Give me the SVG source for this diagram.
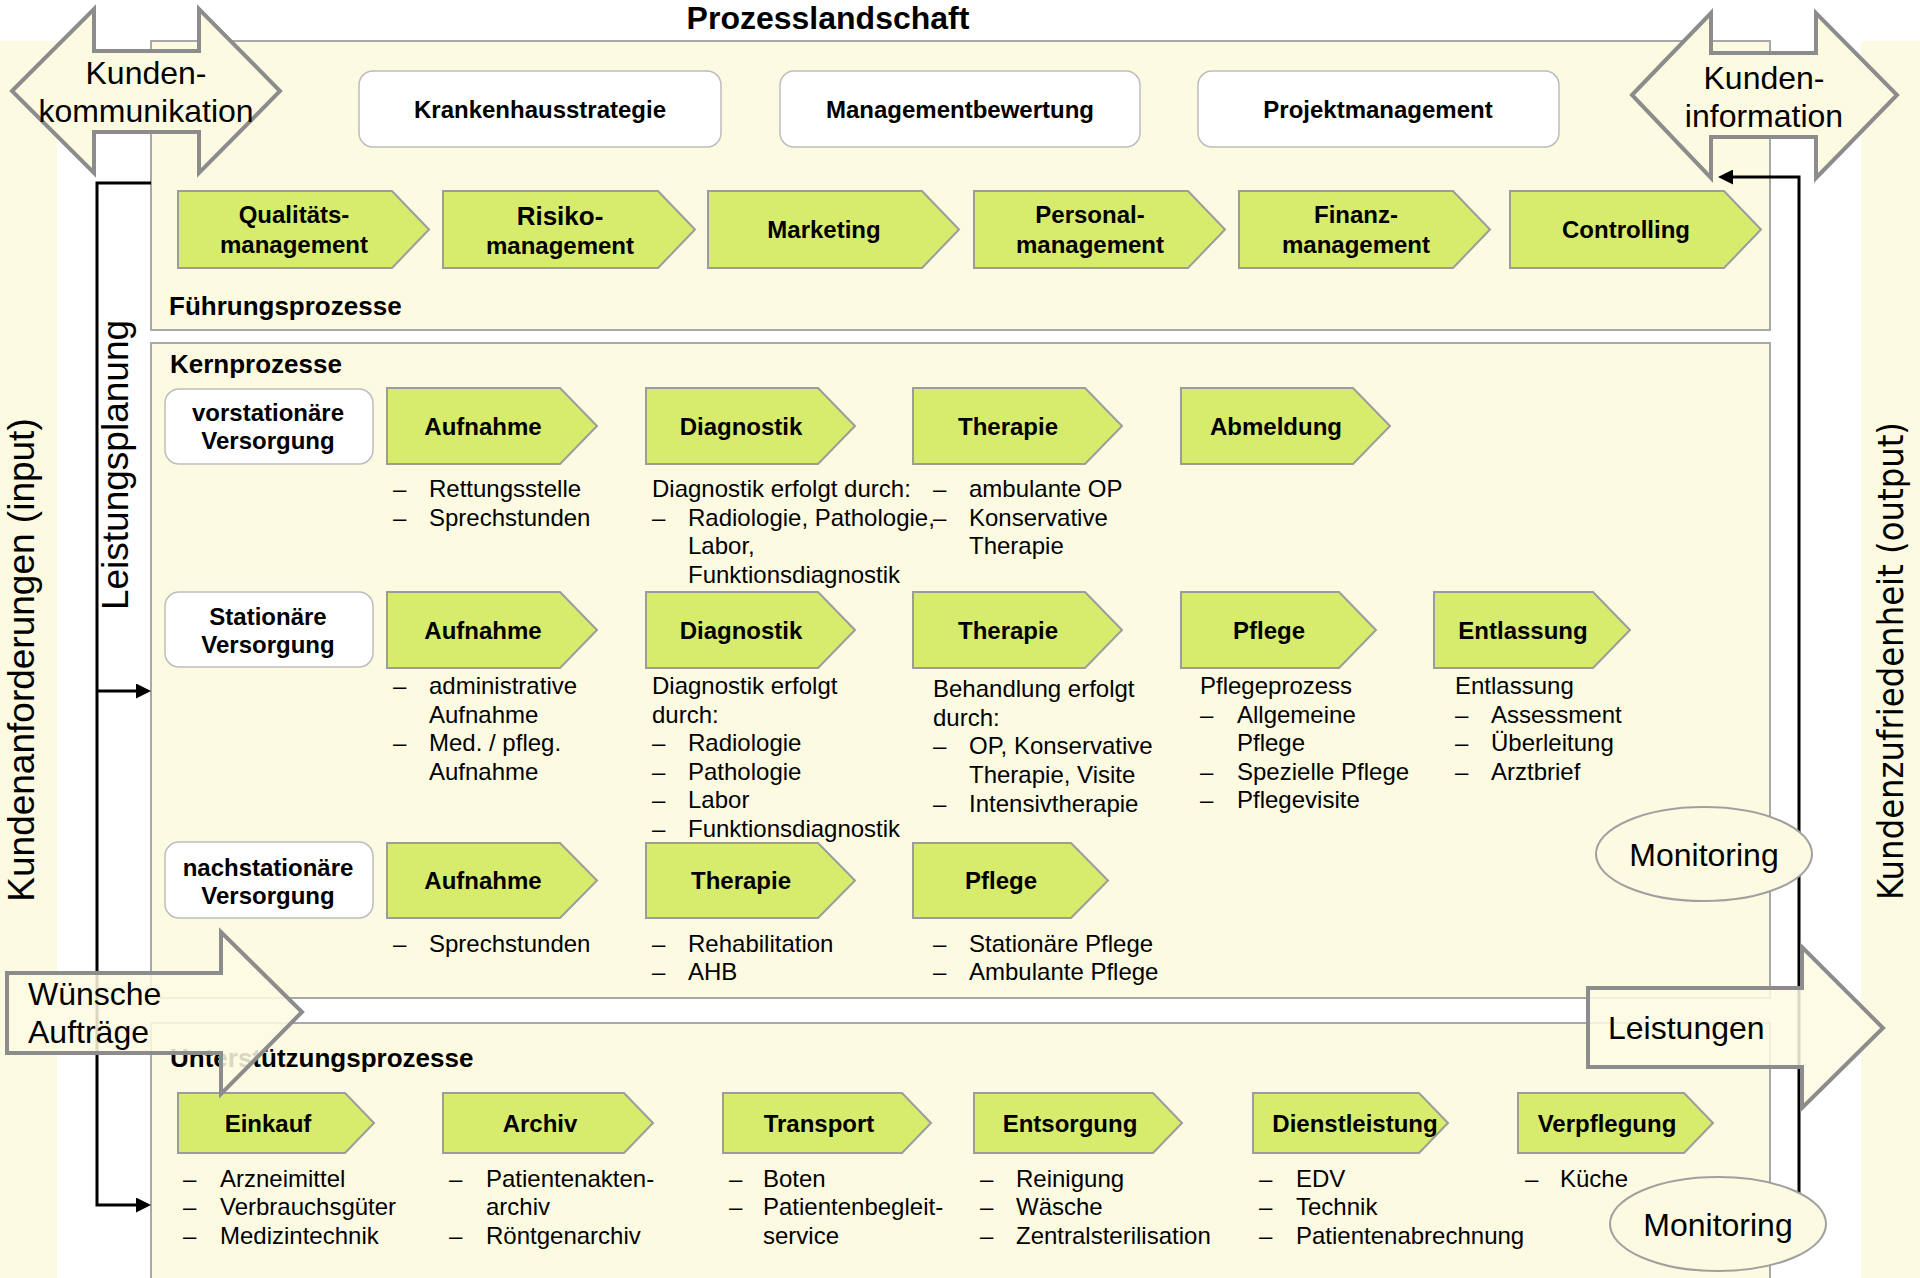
<svg xmlns="http://www.w3.org/2000/svg" width="1920" height="1278" viewBox="0 0 1920 1278">
<defs>
<style>
.bg{fill:#FDFAE2}
.frame{fill:#FDFAE2;stroke:#A8A8A8;stroke-width:2}
.wbox{fill:#FFFFFF;stroke:#BDBDBD;stroke-width:1.5}
.gn{fill:#D7EC6C;stroke:#9C9C9C;stroke-width:2}
.big{fill:#FDFAE2;stroke:#8C8C8C;stroke-width:4}
.semi{fill-opacity:0.86}
.ell{fill:#FDFAE2;stroke:#A0A0A0;stroke-width:2}
text{font-family:"Liberation Sans",Arial,sans-serif;fill:#000}
.nb{font-size:24px;font-weight:bold;text-anchor:middle}
.d{font-size:24px}
.sec{font-size:26px;font-weight:bold}
.lg{font-size:32px}
.lgc{font-size:32px;text-anchor:middle}
.rot{font-size:37px;text-anchor:middle}
.conn{stroke:#000;stroke-width:3;fill:none}
</style>
<marker id="ah" viewBox="0 0 15 15" refX="4" refY="7.5" markerWidth="15" markerHeight="15" markerUnits="userSpaceOnUse" orient="auto">
<path d="M0,0 L15,7.5 L0,15 z" fill="#000"/>
</marker>
</defs>

<g id="background">
<rect class="bg" x="0" y="41" width="57" height="1237"/>
<rect class="bg" x="1861" y="41" width="59" height="1237"/>
<rect id="frame-fuehrung" class="frame" x="151" y="41" width="1619" height="289"/>
<rect id="frame-kern" class="frame" x="151" y="343" width="1619" height="655"/>
<rect id="frame-unterstuetzung" class="frame" x="151" y="1023" width="1619" height="300"/>
</g>

<g id="labels">
<text x="828" y="29" style="font-size:32px;font-weight:bold;text-anchor:middle">Prozesslandschaft</text>
<text class="sec" x="169" y="315">Führungsprozesse</text>
<text class="sec" x="170" y="373">Kernprozesse</text>
<text class="sec" x="170" y="1067">Unterstützungsprozesse</text>
</g>

<g id="n-krankenhausstrategie"><rect class="wbox" x="359" y="71" width="362" height="76" rx="14"/><text class="nb" x="540" y="117.5">Krankenhausstrategie</text></g>
<g id="n-managementbewertung"><rect class="wbox" x="780" y="71" width="360" height="76" rx="14"/><text class="nb" x="960" y="117.5">Managementbewertung</text></g>
<g id="n-projektmanagement"><rect class="wbox" x="1198" y="71" width="361" height="76" rx="14"/><text class="nb" x="1378" y="117.5">Projektmanagement</text></g>

<g id="n-qualitaet"><polygon class="gn" points="178,191 392,191 429,229.5 392,268 178,268"/><text class="nb" x="294" y="223">Qualitäts-</text><text class="nb" x="294" y="253">management</text></g>
<g id="n-risiko"><polygon class="gn" points="443,191 658,191 695,229.5 658,268 443,268"/><text class="nb" x="560" y="224.5" style="font-size:26px">Risiko-</text><text class="nb" x="560" y="254">management</text></g>
<g id="n-marketing"><polygon class="gn" points="708,191 922,191 959,229.5 922,268 708,268"/><text class="nb" x="824" y="238">Marketing</text></g>
<g id="n-personal"><polygon class="gn" points="974,191 1188,191 1225,229.5 1188,268 974,268"/><text class="nb" x="1090" y="223">Personal-</text><text class="nb" x="1090" y="253">management</text></g>
<g id="n-finanz"><polygon class="gn" points="1239,191 1453,191 1490,229.5 1453,268 1239,268"/><text class="nb" x="1356" y="223">Finanz-</text><text class="nb" x="1356" y="253">management</text></g>
<g id="n-controlling"><polygon class="gn" points="1510,191 1724,191 1761,229.5 1724,268 1510,268"/><text class="nb" x="1626" y="238">Controlling</text></g>

<g id="n-vorstationaer"><rect class="wbox" x="165" y="389" width="208" height="75" rx="14"/><text class="nb" x="268" y="421">vorstationäre</text><text class="nb" x="268" y="449">Versorgung</text></g>
<g id="n-stationaer"><rect class="wbox" x="165" y="592" width="208" height="75" rx="14"/><text class="nb" x="268" y="625">Stationäre</text><text class="nb" x="268" y="653">Versorgung</text></g>
<g id="n-nachstationaer"><rect class="wbox" x="165" y="842" width="208" height="76" rx="14"/><text class="nb" x="268" y="876">nachstationäre</text><text class="nb" x="268" y="904">Versorgung</text></g>

<g id="n-r1-aufnahme"><polygon class="gn" points="387,388 560,388 597,426 560,464 387,464"/><text class="nb" x="483" y="434.5">Aufnahme</text></g>
<g id="n-r1-diagnostik"><polygon class="gn" points="646,388 818,388 855,426 818,464 646,464"/><text class="nb" x="741" y="434.5">Diagnostik</text></g>
<g id="n-r1-therapie"><polygon class="gn" points="913,388 1085,388 1122,426 1085,464 913,464"/><text class="nb" x="1008" y="434.5">Therapie</text></g>
<g id="n-r1-abmeldung"><polygon class="gn" points="1181,388 1353,388 1390,426 1353,464 1181,464"/><text class="nb" x="1276" y="434.5">Abmeldung</text></g>

<g id="n-r2-aufnahme"><polygon class="gn" points="387,592 560,592 597,630 560,668 387,668"/><text class="nb" x="483" y="638.5">Aufnahme</text></g>
<g id="n-r2-diagnostik"><polygon class="gn" points="646,592 818,592 855,630 818,668 646,668"/><text class="nb" x="741" y="638.5">Diagnostik</text></g>
<g id="n-r2-therapie"><polygon class="gn" points="913,592 1085,592 1122,630 1085,668 913,668"/><text class="nb" x="1008" y="638.5">Therapie</text></g>
<g id="n-r2-pflege"><polygon class="gn" points="1181,592 1339,592 1376,630 1339,668 1181,668"/><text class="nb" x="1269" y="638.5">Pflege</text></g>
<g id="n-r2-entlassung"><polygon class="gn" points="1434,592 1593,592 1630,630 1593,668 1434,668"/><text class="nb" x="1523" y="638.5">Entlassung</text></g>

<g id="n-r3-aufnahme"><polygon class="gn" points="387,843 560,843 597,880.5 560,918 387,918"/><text class="nb" x="483" y="889">Aufnahme</text></g>
<g id="n-r3-therapie"><polygon class="gn" points="646,843 818,843 855,880.5 818,918 646,918"/><text class="nb" x="741" y="889">Therapie</text></g>
<g id="n-r3-pflege"><polygon class="gn" points="913,843 1071,843 1108,880.5 1071,918 913,918"/><text class="nb" x="1001" y="889">Pflege</text></g>

<g id="n-einkauf"><polygon class="gn" points="178,1093 345,1093 374,1123 345,1153 178,1153"/><text class="nb" x="268" y="1131.5">Einkauf</text></g>
<g id="n-archiv"><polygon class="gn" points="443,1093 624,1093 653,1123 624,1153 443,1153"/><text class="nb" x="540" y="1131.5">Archiv</text></g>
<g id="n-transport"><polygon class="gn" points="723,1093 902,1093 931,1123 902,1153 723,1153"/><text class="nb" x="819" y="1131.5">Transport</text></g>
<g id="n-entsorgung"><polygon class="gn" points="974,1093 1153,1093 1182,1123 1153,1153 974,1153"/><text class="nb" x="1070" y="1131.5">Entsorgung</text></g>
<g id="n-dienstleistung"><polygon class="gn" points="1253,1093 1419,1093 1448,1123 1419,1153 1253,1153"/><text class="nb" x="1355" y="1131.5">Dienstleistung</text></g>
<g id="n-verpflegung"><polygon class="gn" points="1518,1093 1684,1093 1713,1123 1684,1153 1518,1153"/><text class="nb" x="1607" y="1131.5">Verpflegung</text></g>

<g id="descriptions" class="d">
<text class="d" x="393" y="497">–</text><text class="d" x="429" y="497">Rettungsstelle</text>
<text class="d" x="393" y="526">–</text><text class="d" x="429" y="526">Sprechstunden</text>
<text class="d" x="652" y="497">Diagnostik erfolgt durch:</text>
<text class="d" x="652" y="526">–</text><text class="d" x="688" y="526">Radiologie, Pathologie,</text>
<text class="d" x="688" y="554">Labor,</text>
<text class="d" x="688" y="583">Funktionsdiagnostik</text>
<text class="d" x="933" y="497">–</text><text class="d" x="969" y="497">ambulante OP</text>
<text class="d" x="933" y="526">–</text><text class="d" x="969" y="526">Konservative</text>
<text class="d" x="969" y="554">Therapie</text>

<text class="d" x="393" y="694">–</text><text class="d" x="429" y="694">administrative</text>
<text class="d" x="429" y="722.5">Aufnahme</text>
<text class="d" x="393" y="751">–</text><text class="d" x="429" y="751">Med. / pfleg.</text>
<text class="d" x="429" y="780">Aufnahme</text>
<text class="d" x="652" y="694">Diagnostik erfolgt</text>
<text class="d" x="652" y="722.5">durch:</text>
<text class="d" x="652" y="751">–</text><text class="d" x="688" y="751">Radiologie</text>
<text class="d" x="652" y="780">–</text><text class="d" x="688" y="780">Pathologie</text>
<text class="d" x="652" y="808">–</text><text class="d" x="688" y="808">Labor</text>
<text class="d" x="652" y="837">–</text><text class="d" x="688" y="837">Funktionsdiagnostik</text>
<text class="d" x="933" y="697">Behandlung erfolgt</text>
<text class="d" x="933" y="726">durch:</text>
<text class="d" x="933" y="754">–</text><text class="d" x="969" y="754">OP, Konservative</text>
<text class="d" x="969" y="783">Therapie, Visite</text>
<text class="d" x="933" y="812">–</text><text class="d" x="969" y="812">Intensivtherapie</text>
<text class="d" x="1200" y="694">Pflegeprozess</text>
<text class="d" x="1200" y="722.5">–</text><text class="d" x="1237" y="722.5">Allgemeine</text>
<text class="d" x="1237" y="751">Pflege</text>
<text class="d" x="1200" y="780">–</text><text class="d" x="1237" y="780">Spezielle Pflege</text>
<text class="d" x="1200" y="808">–</text><text class="d" x="1237" y="808">Pflegevisite</text>
<text class="d" x="1455" y="694">Entlassung</text>
<text class="d" x="1455" y="722.5">–</text><text class="d" x="1491" y="722.5">Assessment</text>
<text class="d" x="1455" y="751">–</text><text class="d" x="1491" y="751">Überleitung</text>
<text class="d" x="1455" y="780">–</text><text class="d" x="1491" y="780">Arztbrief</text>

<text class="d" x="393" y="952">–</text><text class="d" x="429" y="952">Sprechstunden</text>
<text class="d" x="652" y="952">–</text><text class="d" x="688" y="952">Rehabilitation</text>
<text class="d" x="652" y="980">–</text><text class="d" x="688" y="980">AHB</text>
<text class="d" x="933" y="952">–</text><text class="d" x="969" y="952">Stationäre Pflege</text>
<text class="d" x="933" y="980">–</text><text class="d" x="969" y="980">Ambulante Pflege</text>

<text class="d" x="183" y="1187">–</text><text class="d" x="220" y="1187">Arzneimittel</text>
<text class="d" x="183" y="1215">–</text><text class="d" x="220" y="1215">Verbrauchsgüter</text>
<text class="d" x="183" y="1244">–</text><text class="d" x="220" y="1244">Medizintechnik</text>
<text class="d" x="449" y="1187">–</text><text class="d" x="486" y="1187">Patientenakten-</text>
<text class="d" x="486" y="1215">archiv</text>
<text class="d" x="449" y="1244">–</text><text class="d" x="486" y="1244">Röntgenarchiv</text>
<text class="d" x="729" y="1187">–</text><text class="d" x="763" y="1187">Boten</text>
<text class="d" x="729" y="1215">–</text><text class="d" x="763" y="1215">Patientenbegleit-</text>
<text class="d" x="763" y="1244">service</text>
<text class="d" x="980" y="1187">–</text><text class="d" x="1016" y="1187">Reinigung</text>
<text class="d" x="980" y="1215">–</text><text class="d" x="1016" y="1215">Wäsche</text>
<text class="d" x="980" y="1244">–</text><text class="d" x="1016" y="1244">Zentralsterilisation</text>
<text class="d" x="1259" y="1187">–</text><text class="d" x="1296" y="1187">EDV</text>
<text class="d" x="1259" y="1215">–</text><text class="d" x="1296" y="1215">Technik</text>
<text class="d" x="1259" y="1244">–</text><text class="d" x="1296" y="1244">Patientenabrechnung</text>
<text class="d" x="1525" y="1187">–</text><text class="d" x="1560" y="1187">Küche</text>
</g>

<g id="connectors">
<path class="conn" d="M151,183 H97 V1205 H140" marker-end="url(#ah)"/>
<path class="conn" d="M97,691 H140" marker-end="url(#ah)"/>
<path class="conn" d="M1799,1215 V177 H1729" marker-end="url(#ah)"/>
</g>

<g id="side-labels">
<text class="rot" transform="translate(34,660) rotate(-90)">Kundenanforderungen (input)</text>
<text class="rot" transform="translate(128,465) rotate(-90)">Leistungsplanung</text>
<text transform="translate(1903,661) rotate(-90)" style="font-family:'DejaVu Sans',Verdana,sans-serif;font-size:36px;text-anchor:middle" textLength="478" lengthAdjust="spacingAndGlyphs">Kundenzufriedenheit (output)</text>
</g>

<g id="n-kundenkommunikation">
<polygon class="big" points="12,91 94,9 94,51 199,51 199,9 280,91 199,173 199,132 94,132 94,173"/>
<text class="lgc" x="146" y="84">Kunden-</text>
<text class="lgc" x="146" y="122">kommunikation</text>
</g>
<g id="n-kundeninformation">
<polygon class="big" points="1632,95 1711,13 1711,53 1816,53 1816,13 1897,95 1816,178 1816,137 1711,137 1711,178"/>
<text class="lgc" x="1764" y="89">Kunden-</text>
<text class="lgc" x="1764" y="127">information</text>
</g>
<g id="n-wuensche">
<polygon class="big semi" points="7,973 221,973 221,932 302,1012 221,1094 221,1053 7,1053"/>
<text class="lg" x="28" y="1005">Wünsche</text>
<text class="lg" x="28" y="1043">Aufträge</text>
</g>
<g id="n-leistungen">
<polygon class="big semi" points="1588,988 1802,988 1802,947 1883,1028 1802,1108 1802,1067 1588,1067"/>
<text class="lg" x="1608" y="1039">Leistungen</text>
</g>

<g id="n-monitoring-1"><ellipse class="ell" cx="1704" cy="854" rx="108" ry="47"/><text class="lgc" x="1704" y="866">Monitoring</text></g>
<g id="n-monitoring-2"><ellipse class="ell" cx="1718" cy="1224" rx="108" ry="47"/><text class="lgc" x="1718" y="1236">Monitoring</text></g>
</svg>
